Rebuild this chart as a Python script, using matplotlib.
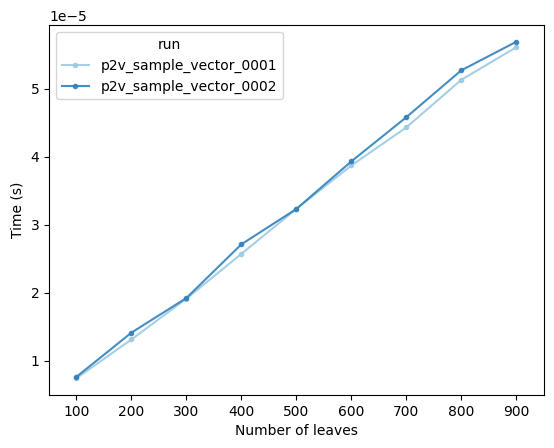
import matplotlib
matplotlib.use("Agg")
import matplotlib.pyplot as plt

leaves = [100, 200, 300, 400, 500, 600, 700, 800, 900]
# times in units of 1e-5 s
run_0001 = [0.74, 1.31, 1.91, 2.57, 3.23, 3.87, 4.43, 5.13, 5.61]
run_0002 = [0.76, 1.41, 1.92, 2.71, 3.23, 3.93, 4.58, 5.27, 5.69]
runs = ["p2v_sample_vector_0001", "p2v_sample_vector_0002"]
colors = ["#9ecae1", "#3182bd"]

fig = plt.figure(figsize=(5.54, 4.48), dpi=100)
ax = fig.add_axes([49 / 554, 1 - 395 / 448, 494.7 / 554, 370 / 448])

for name, vals, c in zip(runs, [run_0001, run_0002], colors):
    ax.plot(leaves, [v * 1e-5 for v in vals], marker="o", markersize=3,
            color=c, label=name, alpha=0.9)

ax.set_xlim(50, 950)
ax.set_xticks(leaves)
ax.set_xlabel("Number of leaves")
ax.set_ylabel("Time (s)")
ax.legend(title="run", loc="upper left")

fig.savefig("out.png", dpi=100)
